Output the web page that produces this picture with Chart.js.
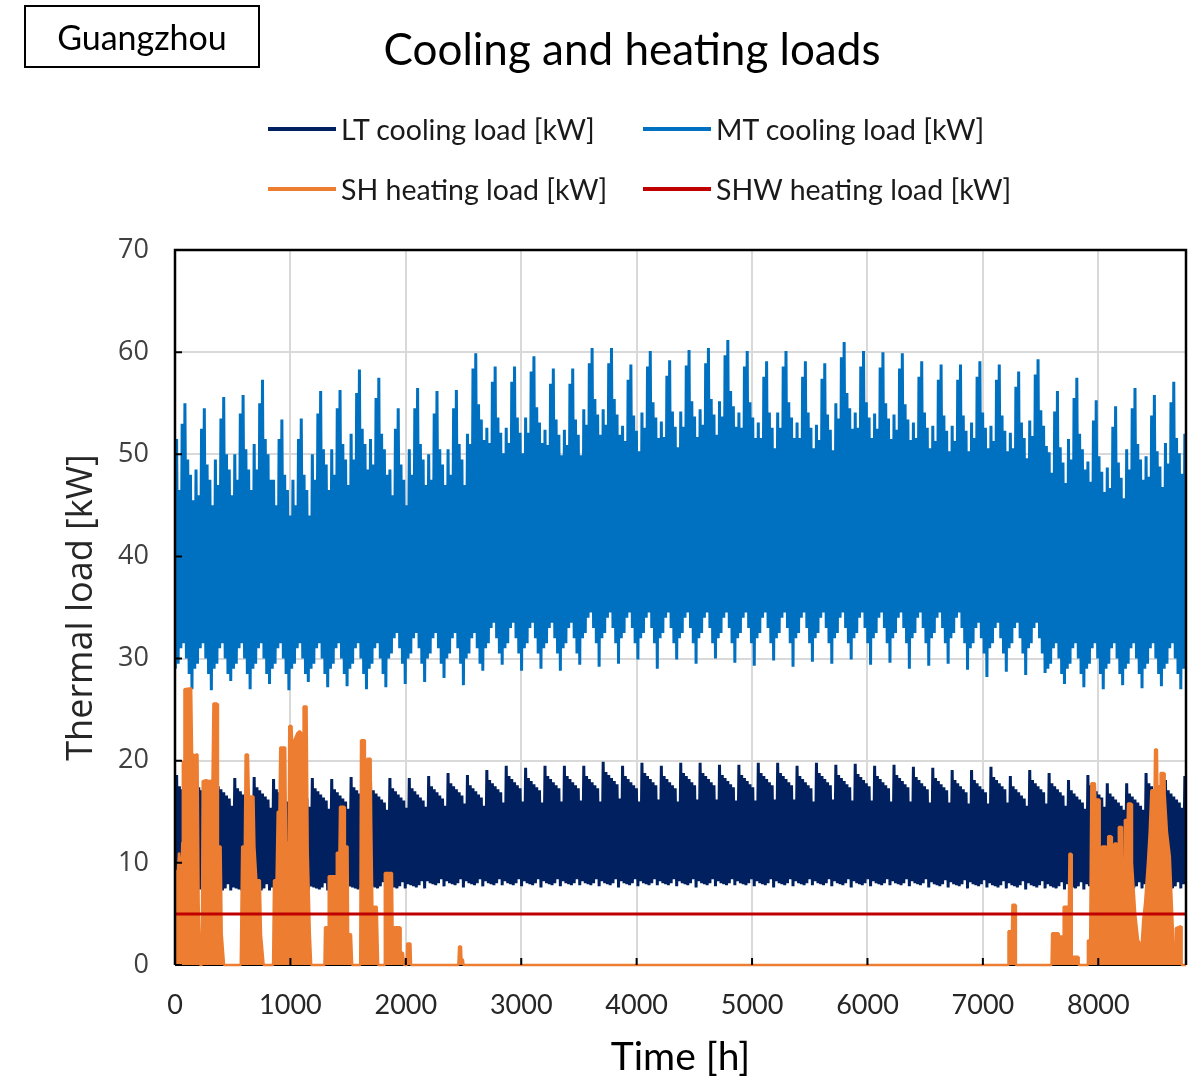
<!DOCTYPE html>
<html>
<head>
<meta charset="utf-8">
<script src="https://cdn.jsdelivr.net/npm/chart.js@4.4.1/dist/chart.umd.min.js"></script>
<style>
    body { margin: 0; background: #fff; }
    #wrap { position: relative; width: 1194px; height: 1083px; }
    #city-box {
        position: absolute; left: 24px; top: 5px; width: 236px; height: 63px;
        box-sizing: border-box; border: 2px solid #000;
        display: flex; align-items: center; justify-content: center;
        font-family: Lato, sans-serif; font-size: 34px; color: #000;
    }
    #chart-title {
        position: absolute; left: 632px; top: 22px; transform: translateX(-50%);
        font-family: Lato, sans-serif; font-size: 44px; line-height: 52px;
        color: #000; white-space: nowrap;
    }
    .legend-item {
        position: absolute; display: flex; align-items: center;
        font-family: Lato, sans-serif; font-size: 28.5px; color: #1a1a1a;
        white-space: nowrap; height: 34px;
    }
    .legend-item span.swatch { display: inline-block; width: 68px; height: 4px; margin-right: 5px; }
</style>
</head>
<body>
<div id="wrap">
    <canvas id="loads-chart" width="1194" height="1083"></canvas>
    <div id="city-box">Guangzhou</div>
    <div id="chart-title">Cooling and heating loads</div>
    <div id="legend"></div>
</div>
<script>
// daily peak / night minimum, one row per week (MT spike on 4th day, LT spike on 1st day)
const mtHigh = [
    51.5, 46.5, 53, 55, 49.5, 48, 45.5,
    48.5, 46, 52.5, 54.5, 49, 47.5, 45,
    49.5, 47, 53.5, 55.6, 50, 48.5, 46,
    50, 47.5, 54, 55.8, 50.5, 48.5, 46.5,
    51, 48.5, 55, 57.3, 51.5, 50, 47.5,
    47.5, 45, 51.5, 53.4, 48, 46.5, 44,
    47.5, 45, 51.5, 53.5, 48, 46.5, 44,
    50, 47.5, 54, 56.2, 50.5, 49, 46.5,
    50.5, 48, 54.5, 56.3, 51, 49.5, 47,
    52, 49.5, 56, 58.3, 52.5, 51, 48.5,
    51.5, 49, 55.5, 57.5, 52, 50.5, 48,
    48.5, 46, 52.5, 54.5, 49, 47.5, 45,
    50.5, 48, 54.5, 56.5, 51, 49.5, 47,
    50, 47.5, 54, 56.2, 50.5, 49, 47,
    50.5, 48, 54.5, 56.3, 51, 49.5, 47,
    52, 51, 58.4, 59.9, 54.9, 53.4, 51.4,
    52.6, 51.1, 57.1, 58.6, 53.6, 52.1, 50.1,
    52.6, 51.1, 57.1, 58.6, 53.6, 52.1, 50.1,
    53.6, 52.1, 58.1, 59.6, 54.6, 53.1, 51.1,
    52.4, 50.9, 56.9, 58.4, 53.4, 51.9, 49.9,
    52.4, 50.9, 56.9, 58.4, 53.4, 51.9, 49.9,
    54.4, 52.9, 58.9, 60.4, 55.4, 53.9, 51.9,
    54.4, 52.9, 58.9, 60.4, 55.4, 53.9, 51.9,
    52.8, 51.3, 57.3, 58.8, 53.8, 52.3, 50.3,
    54.1, 52.6, 58.6, 60.1, 55.1, 53.6, 51.6,
    53.2, 51.7, 57.7, 59.2, 54.2, 52.7, 50.7,
    54.2, 52.7, 58.7, 60.2, 55.2, 53.7, 51.7,
    54.4, 52.9, 58.9, 60.4, 55.4, 53.9, 51.9,
    55.2, 53.7, 59.7, 61.2, 56.2, 54.7, 52.7,
    54.1, 52.6, 58.6, 60.1, 55.1, 53.6, 51.6,
    53.1, 51.6, 57.6, 59.1, 54.1, 52.6, 50.6,
    54.1, 52.6, 58.6, 60.1, 55.1, 53.6, 51.6,
    53.1, 51.6, 57.6, 59.1, 54.1, 52.6, 50.6,
    52.9, 51.4, 57.4, 58.9, 53.9, 52.4, 50.4,
    55, 53.5, 59.5, 61, 56, 54.5, 52.5,
    54.1, 52.6, 58.6, 60.1, 55.1, 53.6, 51.6,
    54, 52.5, 58.5, 60, 55, 53.5, 51.5,
    53.9, 52.4, 58.4, 59.9, 54.9, 53.4, 51.4,
    53.1, 51.6, 57.6, 59.1, 54.1, 52.6, 50.6,
    52.8, 51.3, 57.3, 58.8, 53.8, 52.3, 50.3,
    52.8, 51.3, 57.3, 58.8, 53.8, 52.3, 50.3,
    53.1, 51.6, 57.6, 59.1, 54.1, 52.6, 50.6,
    52.8, 51.3, 57.3, 58.8, 53.8, 52.3, 50.3,
    52.1, 50.6, 56.6, 58.1, 53.1, 51.6, 49.6,
    53.3, 51.8, 57.8, 59.3, 54.3, 52.8, 50.8,
    50.2, 48.2, 54.2, 56.2, 50.7, 49.2, 47.2,
    51.5, 49.5, 55.5, 57.5, 52, 50.5, 48.5,
    49.3, 47.3, 53.3, 55.3, 49.8, 48.3, 46.3,
    48.7, 46.7, 52.7, 54.7, 49.2, 47.7, 45.7,
    50.5, 48.5, 54.5, 56.5, 51, 49.5, 47.5,
    49.8, 47.8, 53.8, 55.8, 50.3, 48.8, 46.8,
    51.1, 49.1, 55.1, 57.1, 51.6, 50.1, 48.1,
    52
];

const mtLow = [
    29, 29.5, 31, 31.5, 30, 28.5, 27,
    29, 29.5, 31, 31.5, 30, 28.5, 26.9,
    29, 29.5, 31, 31.5, 30, 28.5, 27.8,
    29, 29.5, 31, 31.5, 30, 28.5, 27,
    29, 29.5, 31, 31.5, 30, 28.5, 27.5,
    29, 29.5, 31, 31.5, 30, 28.5, 26.9,
    29, 29.5, 31, 31.5, 30, 28.5, 27.7,
    29, 29.5, 31, 31.5, 30, 28.5, 27.2,
    29, 29.5, 31, 31.5, 30, 28.5, 27.3,
    29, 29.5, 31, 31.5, 30, 28.5, 27,
    29, 29.5, 31, 31.5, 30, 28.5, 27.2,
    30, 30.5, 32, 32.5, 31, 29.5, 27.5,
    30, 30.5, 32, 32.5, 31, 29.5, 27.7,
    30, 30.5, 32, 32.5, 31, 29.5, 28.1,
    30, 30.5, 32, 32.5, 31, 29.5, 27.4,
    30, 30.5, 32, 32.5, 31, 29.5, 28.8,
    31, 31.5, 33, 33.5, 32, 30.5, 29.4,
    31, 31.5, 33, 33.5, 32, 30.5, 28.8,
    31, 31.5, 33, 33.5, 32, 30.5, 29,
    31, 31.5, 33, 33.5, 32, 30.5, 28.8,
    31, 31.5, 33, 33.5, 32, 30.5, 29.4,
    32, 32.5, 34, 34.5, 33, 31.5, 29.2,
    32, 32.5, 34, 34.5, 33, 31.5, 29.5,
    32, 32.5, 34, 34.5, 33, 31.5, 29.9,
    32, 32.5, 34, 34.5, 33, 31.5, 29,
    32, 32.5, 34, 34.5, 33, 31.5, 29.9,
    32, 32.5, 34, 34.5, 33, 31.5, 29.5,
    32, 32.5, 34, 34.5, 33, 31.5, 30,
    32, 32.5, 34, 34.5, 33, 31.5, 29.6,
    32, 32.5, 34, 34.5, 33, 31.5, 29.3,
    32, 32.5, 34, 34.5, 33, 31.5, 29.8,
    32, 32.5, 34, 34.5, 33, 31.5, 29.2,
    32, 32.5, 34, 34.5, 33, 31.5, 29.7,
    32, 32.5, 34, 34.5, 33, 31.5, 29.5,
    32, 32.5, 34, 34.5, 33, 31.5, 29.9,
    32, 32.5, 34, 34.5, 33, 31.5, 29.4,
    32, 32.5, 34, 34.5, 33, 31.5, 29.6,
    32, 32.5, 34, 34.5, 33, 31.5, 29,
    32, 32.5, 34, 34.5, 33, 31.5, 29.3,
    32, 32.5, 34, 34.5, 33, 31.5, 29.5,
    32, 32.5, 34, 34.5, 33, 31.5, 28.9,
    31, 31.5, 33, 33.5, 32, 30.5, 28.2,
    31, 31.5, 33, 33.5, 32, 30.5, 28.7,
    31, 31.5, 33, 33.5, 32, 30.5, 28.4,
    31, 31.5, 33, 33.5, 32, 30.5, 28.6,
    29, 29.5, 31, 31.5, 30, 28.5, 27.5,
    29, 29.5, 31, 31.5, 30, 28.5, 27.2,
    29, 29.5, 31, 31.5, 30, 28.5, 27,
    29, 29.5, 31, 31.5, 30, 28.5, 27.4,
    29, 29.5, 31, 31.5, 30, 28.5, 27.1,
    29, 29.5, 31, 31.5, 30, 28.5, 27.3,
    29, 29.5, 31, 31.5, 30, 28.5, 27,
    29
];

const ltHigh = [
    18.6, 17.5, 17.2, 16.9, 16.6, 16.3, 15.5,
    18.4, 17.4, 17.1, 16.8, 16.5, 16.2, 15.4,
    18.5, 17.5, 17.2, 16.9, 16.6, 16.3, 15.6,
    18.3, 17.3, 17, 16.7, 16.4, 16.1, 15.3,
    18.4, 17.4, 17.1, 16.8, 16.5, 16.2, 15.4,
    18.2, 17.2, 16.9, 16.6, 16.3, 16, 15.2,
    18.5, 17.5, 17.2, 16.9, 16.6, 16.3, 15.5,
    18.3, 17.3, 17, 16.7, 16.4, 16.1, 15.3,
    18.2, 17.2, 16.9, 16.6, 16.3, 16, 15.3,
    18.4, 17.4, 17.1, 16.8, 16.5, 16.2, 15.5,
    18.1, 17.1, 16.8, 16.5, 16.2, 15.9, 15.2,
    18.3, 17.3, 17, 16.7, 16.4, 16.1, 15.4,
    18.3, 17.3, 17, 16.7, 16.4, 16.1, 15.5,
    18.5, 17.5, 17.2, 16.9, 16.6, 16.3, 15.6,
    18.8, 17.8, 17.5, 17.2, 16.9, 16.6, 15.8,
    18.6, 17.6, 17.3, 17, 16.7, 16.4, 15.6,
    19.1, 18.1, 17.8, 17.5, 17.2, 16.9, 15.9,
    19.5, 18.5, 18.2, 17.9, 17.6, 17.3, 16,
    19.3, 18.3, 18, 17.7, 17.4, 17.1, 15.9,
    19.5, 18.5, 18.2, 17.9, 17.6, 17.3, 16,
    19.5, 18.5, 18.2, 17.9, 17.6, 17.3, 16.1,
    19.5, 18.5, 18.2, 17.9, 17.6, 17.3, 16,
    19.9, 18.9, 18.6, 18.3, 18, 17.7, 16.3,
    19.5, 18.5, 18.2, 17.9, 17.6, 17.3, 16,
    19.8, 18.8, 18.5, 18.2, 17.9, 17.6, 16.2,
    19.5, 18.5, 18.2, 17.9, 17.6, 17.3, 16,
    19.8, 18.8, 18.5, 18.2, 17.9, 17.6, 16.2,
    19.8, 18.8, 18.5, 18.2, 17.9, 17.6, 16.2,
    19.6, 18.6, 18.3, 18, 17.7, 17.4, 16.1,
    19.6, 18.6, 18.3, 18, 17.7, 17.4, 16.1,
    19.8, 18.8, 18.5, 18.2, 17.9, 17.6, 16.2,
    19.8, 18.8, 18.5, 18.2, 17.9, 17.6, 16.2,
    19.5, 18.5, 18.2, 17.9, 17.6, 17.3, 16,
    19.8, 18.8, 18.5, 18.2, 17.9, 17.6, 16.2,
    19.6, 18.6, 18.3, 18, 17.7, 17.4, 16.1,
    19.7, 18.7, 18.4, 18.1, 17.8, 17.5, 16.1,
    19.5, 18.5, 18.2, 17.9, 17.6, 17.3, 16,
    19.6, 18.6, 18.3, 18, 17.7, 17.4, 16,
    19.4, 18.4, 18.1, 17.8, 17.5, 17.2, 15.9,
    19.3, 18.3, 18, 17.7, 17.4, 17.1, 15.9,
    19.1, 18.1, 17.8, 17.5, 17.2, 16.9, 15.8,
    19.1, 18.1, 17.8, 17.5, 17.2, 16.9, 15.8,
    19.4, 18.4, 18.1, 17.8, 17.5, 17.2, 15.9,
    18.5, 17.5, 17.2, 16.9, 16.6, 16.3, 15.6,
    19.1, 18.1, 17.8, 17.5, 17.2, 16.9, 15.8,
    18.8, 17.8, 17.5, 17.2, 16.9, 16.6, 15.6,
    18.1, 17.1, 16.8, 16.5, 16.2, 15.9, 15.3,
    18.6, 17.6, 17.3, 17, 16.7, 16.4, 15.5,
    17.8, 16.8, 16.5, 16.2, 15.9, 15.6, 15.2,
    17.8, 16.8, 16.5, 16.2, 15.9, 15.6, 15.2,
    18.8, 17.8, 17.5, 17.2, 16.9, 16.6, 15.6,
    18.1, 17.1, 16.8, 16.5, 16.2, 15.9, 15.4,
    18.5
];

const ltLow = [
    7.6, 7.5, 7.4, 7.3, 7.5, 7.9, 7.2,
    7.6, 7.5, 7.4, 7.3, 7.5, 7.9, 7.2,
    7.6, 7.5, 7.4, 7.3, 7.5, 7.9, 7.3,
    7.6, 7.5, 7.4, 7.3, 7.5, 7.9, 7.2,
    7.6, 7.5, 7.4, 7.3, 7.5, 7.9, 7.3,
    7.6, 7.5, 7.4, 7.3, 7.5, 7.9, 7.2,
    7.6, 7.5, 7.4, 7.3, 7.5, 7.9, 7.3,
    7.7, 7.6, 7.5, 7.4, 7.6, 8, 7.3,
    7.7, 7.6, 7.5, 7.4, 7.6, 8, 7.4,
    7.7, 7.6, 7.5, 7.4, 7.6, 8, 7.3,
    7.8, 7.7, 7.6, 7.5, 7.7, 8.1, 7.4,
    7.8, 7.7, 7.6, 7.5, 7.7, 8.1, 7.5,
    7.9, 7.8, 7.7, 7.6, 7.8, 8.2, 7.5,
    8.2, 8, 7.9, 7.8, 8, 8.4, 7.7,
    8.2, 8, 7.9, 7.8, 8, 8.4, 7.6,
    8.2, 8, 7.9, 7.8, 8, 8.4, 7.7,
    8.2, 8, 7.9, 7.8, 8, 8.4, 7.8,
    8.2, 8, 7.9, 7.8, 8, 8.4, 7.7,
    8.2, 8, 7.9, 7.8, 8, 8.4, 7.6,
    8.2, 8, 7.9, 7.8, 8, 8.4, 7.7,
    8.2, 8, 7.9, 7.8, 8, 8.4, 7.8,
    8.2, 8, 7.9, 7.8, 8, 8.4, 7.7,
    8.2, 8, 7.9, 7.8, 8, 8.4, 7.6,
    8.2, 8, 7.9, 7.8, 8, 8.4, 7.7,
    8.2, 8, 7.9, 7.8, 8, 8.4, 7.8,
    8.2, 8, 7.9, 7.8, 8, 8.4, 7.7,
    8.2, 8, 7.9, 7.8, 8, 8.4, 7.6,
    8.2, 8, 7.9, 7.8, 8, 8.4, 7.7,
    8.2, 8, 7.9, 7.8, 8, 8.4, 7.8,
    8.2, 8, 7.9, 7.8, 8, 8.4, 7.7,
    8.2, 8, 7.9, 7.8, 8, 8.4, 7.6,
    8.2, 8, 7.9, 7.8, 8, 8.4, 7.7,
    8.2, 8, 7.9, 7.8, 8, 8.4, 7.8,
    8.2, 8, 7.9, 7.8, 8, 8.4, 7.7,
    8.2, 8, 7.9, 7.8, 8, 8.4, 7.6,
    8.2, 8, 7.9, 7.8, 8, 8.4, 7.7,
    8.2, 8, 7.9, 7.8, 8, 8.4, 7.8,
    8.2, 8, 7.9, 7.8, 8, 8.4, 7.7,
    8.2, 8, 7.9, 7.8, 8, 8.4, 7.6,
    8.1, 7.9, 7.8, 7.7, 7.9, 8.3, 7.6,
    8.1, 7.9, 7.8, 7.7, 7.9, 8.3, 7.5,
    8.1, 7.9, 7.8, 7.7, 7.9, 8.3, 7.6,
    8, 7.8, 7.7, 7.6, 7.8, 8.2, 7.5,
    8, 7.8, 7.7, 7.6, 7.8, 8.2, 7.4,
    8, 7.8, 7.7, 7.6, 7.8, 8.2, 7.5,
    7.9, 7.7, 7.6, 7.5, 7.7, 8.1, 7.4,
    7.9, 7.7, 7.6, 7.5, 7.7, 8.1, 7.4,
    7.9, 7.7, 7.6, 7.5, 7.7, 8.1, 7.5,
    7.9, 7.7, 7.6, 7.5, 7.7, 8.1, 7.4,
    7.9, 7.7, 7.6, 7.5, 7.7, 8.1, 7.5,
    7.9, 7.7, 7.6, 7.5, 7.7, 8.1, 7.4,
    7.9, 7.7, 7.6, 7.5, 7.7, 8.1, 7.5,
    7.9
];

// space heating only runs in the cool months, in blocks of days
const shHours = [
    0, 3, 25, 35, 55, 63, 68, 78, 82, 140, 148, 162, 166, 176, 180, 195, 205, 218,
    232, 240, 270, 300, 325, 333, 365, 372, 395, 405, 425,
    570, 582, 605, 612, 632, 640, 680, 688, 705, 735, 745, 768,
    850, 858, 880, 890, 905, 912, 955, 962, 985, 990, 1010, 1015, 1060, 1080, 1095, 1100,
    1110, 1114, 1140, 1150, 1168, 1180,
    1295, 1300, 1328, 1332, 1398, 1402, 1425, 1430, 1468, 1472, 1495, 1500, 1525, 1535,
    1605, 1612, 1645, 1650, 1662, 1666, 1695, 1700, 1710, 1748, 1760,
    1812, 1818, 1880, 1885, 1950, 1955, 1975, 1985, 2008, 2012, 2040, 2045,
    2455, 2462, 2478, 2482, 2495, 2500,
    7218, 7222, 7252, 7256, 7282, 7286,
    7595, 7600, 7655, 7658, 7695, 7700, 7745, 7750, 7765, 7770, 7825, 7830,
    7905, 7910, 7930, 7940, 7970, 7975, 8008, 8012, 8028, 8032, 8068, 8072, 8082, 8086, 8112, 8118,
    8135, 8140, 8160, 8165, 8175, 8178, 8205, 8210, 8225, 8230, 8255, 8258, 8285, 8292, 8320, 8345,
    8375, 8390, 8405, 8430, 8445, 8460, 8488, 8492, 8508, 8512, 8535, 8540, 8570, 8575, 8595, 8620,
    8640, 8655, 8668, 8672, 8718, 8722, 8760
];
const shValues = [
    0, 9, 9.3, 11, 8, 12, 20, 19, 27, 27.1, 20.6, 20.6, 13, 13, 20.6, 20.6, 6, 0,
    0, 18, 18.1, 18, 18.1, 25.6, 25.6, 11.6, 11.6, 3, 0,
    0, 11.6, 11.6, 20.6, 20.6, 16.5, 16.5, 11.6, 8.3, 8.3, 3, 0,
    0, 8.3, 8.3, 15, 15, 21.3, 21.3, 12, 12, 23.4, 23.4, 21.5, 22.7, 22.9, 22.7, 8.3,
    8.3, 25.3, 25.3, 11, 3.1, 0,
    0, 3.7, 3.7, 8.7, 8.7, 11, 11, 15.5, 15.5, 11.6, 11.6, 3, 3, 0,
    0, 22, 22, 7.7, 7.7, 20.2, 20.2, 14, 5.7, 5.7, 0,
    0, 9, 9, 3.7, 3.7, 1.2, 1.2, 0, 0, 2.1, 2.1, 0,
    0, 1.8, 1.8, 0.6, 0.5, 0,
    0, 3.3, 3.3, 5.9, 5.9, 0,
    0, 3.1, 3.1, 2.8, 2.8, 5.7, 5.7, 10.9, 10.9, 0.8, 0.8, 0,
    0, 2.4, 2.4, 17.8, 17.8, 16.2, 16.2, 7.3, 7.3, 11.6, 11.6, 3.4, 3.4, 12.6, 12.6, 9.6,
    9.6, 11.9, 11.9, 9.5, 9.5, 13.5, 13.5, 8.7, 8.7, 14.2, 14.2, 15.8, 15.8, 10, 5, 2.4,
    1.8, 4.5, 6, 10, 12.9, 17.1, 17.1, 21.1, 21.1, 17.5, 17.5, 18.8, 18.8, 16.8, 13, 10.6,
    5.1, 0.8, 0.8, 3.6, 3.8, 0, 0
];

const shwHours = [0, 8760];
const shwValues = [5, 5];

const xTickValues = [0, 1000, 2000, 3000, 4000, 5000, 6000, 7000, 8000];
const yTickValues = [0, 10, 20, 30, 40, 50, 60, 70];

// night minimum early in the day, peak in the afternoon
function dailyPoints(low, high) {
    const pts = [];
    for (let d = 0; d < high.length; d++) {
        pts.push({ x: d * 24 + 3, y: low[d] });
        pts.push({ x: d * 24 + 14, y: high[d] });
    }
    return pts;
}

function pairPoints(xs, ys) {
    return xs.map((x, i) => ({ x: x, y: ys[i] }));
}

const loadsDatasets = [
    {
        label: "LT cooling load [kW]",
        data: dailyPoints(ltLow, ltHigh),
        borderColor: "#002060",
        borderWidth: 3,
        order: 4,
    },
    {
        label: "MT cooling load [kW]",
        data: dailyPoints(mtLow, mtHigh),
        borderColor: "#0070C0",
        borderWidth: 3,
        order: 3,
    },
    {
        label: "SH heating load [kW]",
        data: pairPoints(shHours, shValues),
        borderColor: "#ED7D31",
        backgroundColor: "#ED7D31",
        fill: "origin",
        borderWidth: 2.5,
        clip: 4,
        order: 2,
    },
    {
        label: "SHW heating load [kW]",
        data: pairPoints(shwHours, shwValues),
        borderColor: "#C00000",
        borderWidth: 3,
        order: 1,
    },
];

const framePlugin = {
    id: "frame",
    beforeDatasetsDraw(chart) {
        const { ctx, chartArea: a } = chart;
        ctx.save();
        ctx.strokeStyle = "#000";
        ctx.lineWidth = 2;
        ctx.beginPath();
        ctx.moveTo(a.left, a.bottom);
        ctx.lineTo(a.right, a.bottom);
        ctx.stroke();
        ctx.restore();
    },
    afterDatasetsDraw(chart) {
        const { ctx, chartArea: a, scales } = chart;
        ctx.save();
        ctx.strokeStyle = "#000";
        ctx.lineWidth = 2.5;
        ctx.beginPath();
        ctx.moveTo(a.left, a.bottom);
        ctx.lineTo(a.left, a.top);
        ctx.lineTo(a.right, a.top);
        ctx.lineTo(a.right, a.bottom);
        ctx.stroke();
        ctx.lineWidth = 2;
        ctx.beginPath();
        scales.x.ticks.forEach((t) => {
            const px = scales.x.getPixelForValue(t.value);
            ctx.moveTo(px, a.bottom);
            ctx.lineTo(px, a.bottom - 7);
        });
        scales.y.ticks.forEach((t) => {
            const py = scales.y.getPixelForValue(t.value);
            ctx.moveTo(a.left, py);
            ctx.lineTo(a.left + 7, py);
        });
        ctx.stroke();
        ctx.restore();
    },
};

const loadsConfig = {
    type: "line",
    data: { datasets: loadsDatasets },
    options: {
        responsive: false,
        animation: false,
        events: [],
        layout: { padding: { top: 250, right: 8, left: 0, bottom: 0 } },
        elements: {
            point: { radius: 0 },
            line: { tension: 0, borderJoinStyle: "bevel" },
        },
        plugins: { legend: { display: false }, tooltip: { enabled: false } },
        scales: {
            x: {
                type: "linear",
                min: 0,
                max: 8760,
                afterBuildTicks: (scale) => {
                    scale.ticks = xTickValues.map((v) => ({ value: v }));
                },
                afterFit: (scale) => {
                    scale.height = 118;
                    scale.paddingLeft = 0;
                    scale.paddingRight = 0;
                },
                border: { display: false },
                grid: { color: "#d9d9d9", lineWidth: 2, drawTicks: false },
                ticks: {
                    autoSkip: false,
                    padding: 24,
                    maxRotation: 0,
                    color: "#262626",
                    font: { family: "Lato", size: 27 },
                    callback: (v) => String(v),
                },
                title: {
                    display: true,
                    text: "Time [h]",
                    color: "#000",
                    font: { family: "Lato", size: 39 },
                    padding: { top: 0, bottom: 2 },
                },
            },
            y: {
                min: 0,
                max: 70,
                afterBuildTicks: (scale) => {
                    scale.ticks = yTickValues.map((v) => ({ value: v }));
                },
                afterFit: (scale) => { scale.width = 175; },
                border: { display: false },
                grid: { color: "#d9d9d9", lineWidth: 2, drawTicks: false },
                ticks: {
                    padding: 26,
                    color: "#404040",
                    font: { family: "Open Sans", size: 27 },
                    callback: (v) => String(v),
                },
                title: {
                    display: true,
                    text: "Thermal load [kW]",
                    color: "#262626",
                    font: { family: "Open Sans", size: 36 },
                    padding: { top: 60, bottom: 0 },
                },
            },
        },
    },
    plugins: [framePlugin],
};

const loadsChart = new Chart(document.getElementById("loads-chart"), loadsConfig);

// two-column legend like the original figure
const legendBox = document.getElementById("legend");
const legendCols = [268, 643];
const legendRows = [129, 189];
loadsDatasets.forEach((ds, i) => {
    const item = document.createElement("div");
    item.className = "legend-item";
    item.style.left = legendCols[i % 2] + "px";
    item.style.top = legendRows[Math.floor(i / 2)] - 17 + "px";
    const swatch = document.createElement("span");
    swatch.className = "swatch";
    swatch.style.background = ds.borderColor;
    item.appendChild(swatch);
    item.appendChild(document.createTextNode(ds.label));
    legendBox.appendChild(item);
});
</script>
</body>
</html>
